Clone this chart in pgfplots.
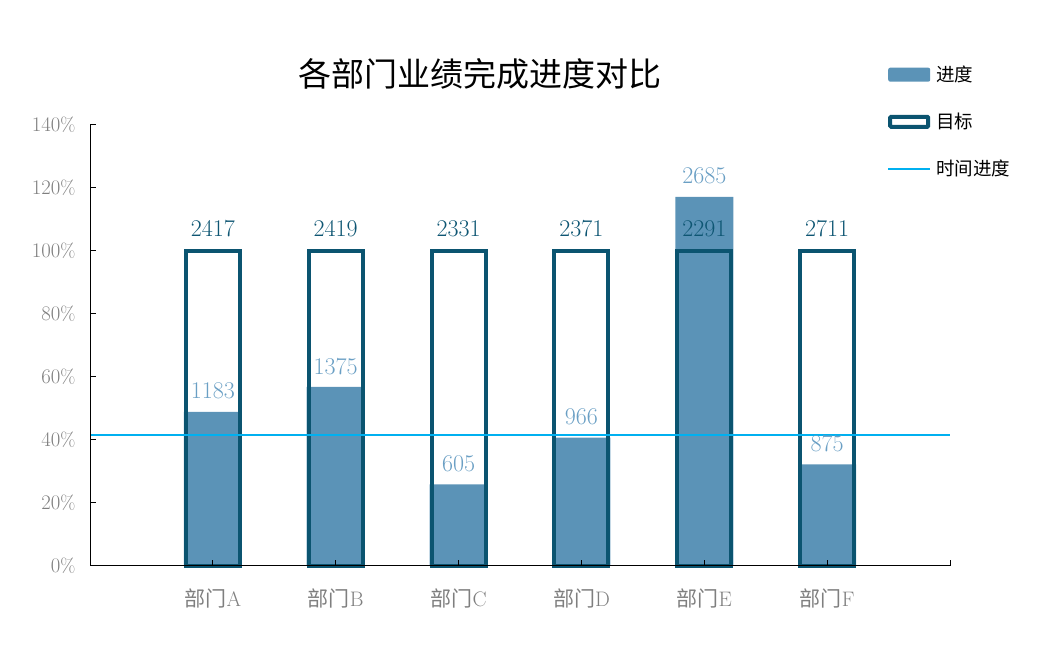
\documentclass[border=0pt]{standalone}
\usepackage{pgfplots}
\pgfplotsset{compat=1.18}
\usepackage{fontspec}
\newfontfamily\cjk{Noto Sans CJK SC}
\definecolor{progfill}{HTML}{5B93B7}
\definecolor{tgtline}{HTML}{0B5470}
\definecolor{proglbl}{HTML}{6A9FC4}
\definecolor{tgtlbl}{HTML}{0E5673}
\definecolor{timeline}{HTML}{00B0F0}
\definecolor{ticklbl}{HTML}{7F7F7F}
\begin{document}
\begin{tikzpicture}
\path[use as bounding box] (0,0) rectangle (1063pt,650pt);
\node[font=\cjk\fontsize{33}{33}\selectfont, text=black] at (480pt,576pt) {各部门业绩完成进度对比};
\begin{axis}[
  at={(90pt,84pt)}, anchor=south west,
  width=860pt, height=441pt, scale only axis,
  xmin=0, xmax=7, ymin=0, ymax=140,
  axis x line*=bottom, axis y line*=left,
  axis line style={black, line width=1pt, -},
  xtick={1,2,3,4,5,6,7},
  xticklabels={{\cjk 部门}A,{\cjk 部门}B,{\cjk 部门}C,{\cjk 部门}D,{\cjk 部门}E,{\cjk 部门}F,{}},
  ytick={0,20,...,140},
  yticklabel={\pgfmathprintnumber{\tick}\%},
  tick align=inside, major tick length=6pt,
  tick style={black, line width=1pt},
  yticklabel style={font=\fontsize{19.5}{19.5}\selectfont, text=ticklbl, xshift=-11pt},
  xticklabel style={font=\fontsize{21}{21}\selectfont, text=ticklbl, yshift=-19pt},
  clip=false, axis on top,
  legend style={at={(0.9233,1.143)}, anchor=north west, draw=none, fill=none,
    font=\cjk\fontsize{18.5}{18.5}\selectfont, row sep=26pt, column sep=3pt,
    nodes={inner sep=2pt}},
  legend cell align=left,
]
\addplot[ybar, bar width=58pt, bar shift=0pt, fill=progfill, draw=none,
  nodes near coords, point meta=explicit symbolic,
  nodes near coords style={font=\fontsize{24}{24}\selectfont, text=proglbl, anchor=south, yshift=9pt},
  legend image code/.code={\fill[progfill, rounded corners=2pt] (0pt,-7pt) rectangle (42pt,7pt);}]
coordinates {(1,48.94)[1183] (2,56.84)[1375] (3,25.95)[605] (4,40.74)[966] (5,117.20)[2685] (6,32.28)[875]};
\addlegendentry{进度}
\addplot[ybar, bar width=54pt, bar shift=0pt, fill=none, draw=tgtline, line width=4pt,
  nodes near coords, point meta=explicit symbolic,
  nodes near coords style={font=\fontsize{24}{24}\selectfont, text=tgtlbl, anchor=south, yshift=9pt},
  legend image code/.code={\draw[tgtline, line width=4pt, rounded corners=1pt] (2pt,-5pt) rectangle (40pt,5pt);}]
coordinates {(1,100)[2417] (2,100)[2419] (3,100)[2331] (4,100)[2371] (5,100)[2291] (6,100)[2711]};
\addlegendentry{目标}
\addplot[timeline, line width=2pt, mark=none,
  legend image code/.code={\draw[timeline, line width=2pt] (0pt,0pt) -- (42pt,0pt);}]
coordinates {(0,41.6) (7,41.6)};
\addlegendentry{时间进度}
\end{axis}
\end{tikzpicture}
\end{document}
